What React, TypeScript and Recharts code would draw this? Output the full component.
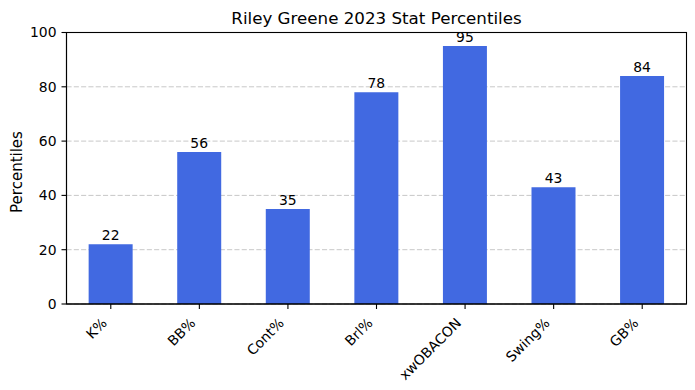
import React from "react";
import {
  BarChart,
  Bar,
  XAxis,
  YAxis,
  CartesianGrid,
  LabelList,
} from "recharts";

const categories = ["K%", "BB%", "Cont%", "Brl%", "xwOBACON", "Swing%", "GB%"];
const percentiles = [22, 56, 35, 78, 95, 43, 84];
const yTicks = [0, 20, 40, 60, 80, 100];

const data = categories.map((stat, i) => ({ stat, value: percentiles[i] }));

const FONT = "DejaVu Sans, sans-serif";

const XTick = ({ x, y, payload }: any) => (
  <g transform={`translate(${x - 3},${y + 13}) rotate(-45)`}>
    <text x={0} y={0} textAnchor="end" fontSize={13.9} fontFamily={FONT} fill="#000">
      {payload.value}
    </text>
  </g>
);

const App = () => {
  return (
    <div style={{ position: "absolute", left: 0, top: 0, width: 695, height: 390 }}>
      <BarChart
        width={695}
        height={390}
        data={data}
        margin={{ top: 32.5, right: 8.5, bottom: 0, left: 0 }}
        barCategoryGap="25%"
      >
        <CartesianGrid
          vertical={false}
          stroke="#c8c8c8"
          strokeDasharray="5.1 2.2"
          horizontalValues={yTicks}
        />
        <XAxis
          dataKey="stat"
          height={86}
          interval={0}
          tick={<XTick />}
          tickSize={5}
          axisLine={{ stroke: "#000", strokeWidth: 1.1 }}
          tickLine={{ stroke: "#000", strokeWidth: 1.1 }}
        />
        <YAxis
          width={66.5}
          domain={[0, 100]}
          ticks={yTicks}
          tickSize={5}
          tickMargin={5}
          tick={{ fill: "#000", fontSize: 13.9, fontFamily: FONT }}
          axisLine={{ stroke: "#000", strokeWidth: 1.1 }}
          tickLine={{ stroke: "#000", strokeWidth: 1.1 }}
        />
        <Bar dataKey="value" fill="#4169E1" isAnimationActive={false}>
          <LabelList
            dataKey="value"
            position="top"
            offset={4}
            fill="#000"
            fontSize={13.9}
            fontFamily={FONT}
          />
        </Bar>
      </BarChart>
      <svg
        width={695}
        height={390}
        style={{ position: "absolute", left: 0, top: 0, pointerEvents: "none" }}
      >
        {/* axes frame (top and right spines) */}
        <rect x={66.5} y={32.5} width={620} height={271.5} fill="none" stroke="#000" strokeWidth={1.1} />
        <text x={376.5} y={24} textAnchor="middle" fontSize={16.7} fontFamily={FONT} fill="#000">
          Riley Greene 2023 Stat Percentiles
        </text>
        <text
          x={22}
          y={172}
          textAnchor="middle"
          fontSize={15}
          fontFamily={FONT}
          fill="#000"
          transform="rotate(-90, 22, 172)"
        >
          Percentiles
        </text>
      </svg>
    </div>
  );
};

export default App;
